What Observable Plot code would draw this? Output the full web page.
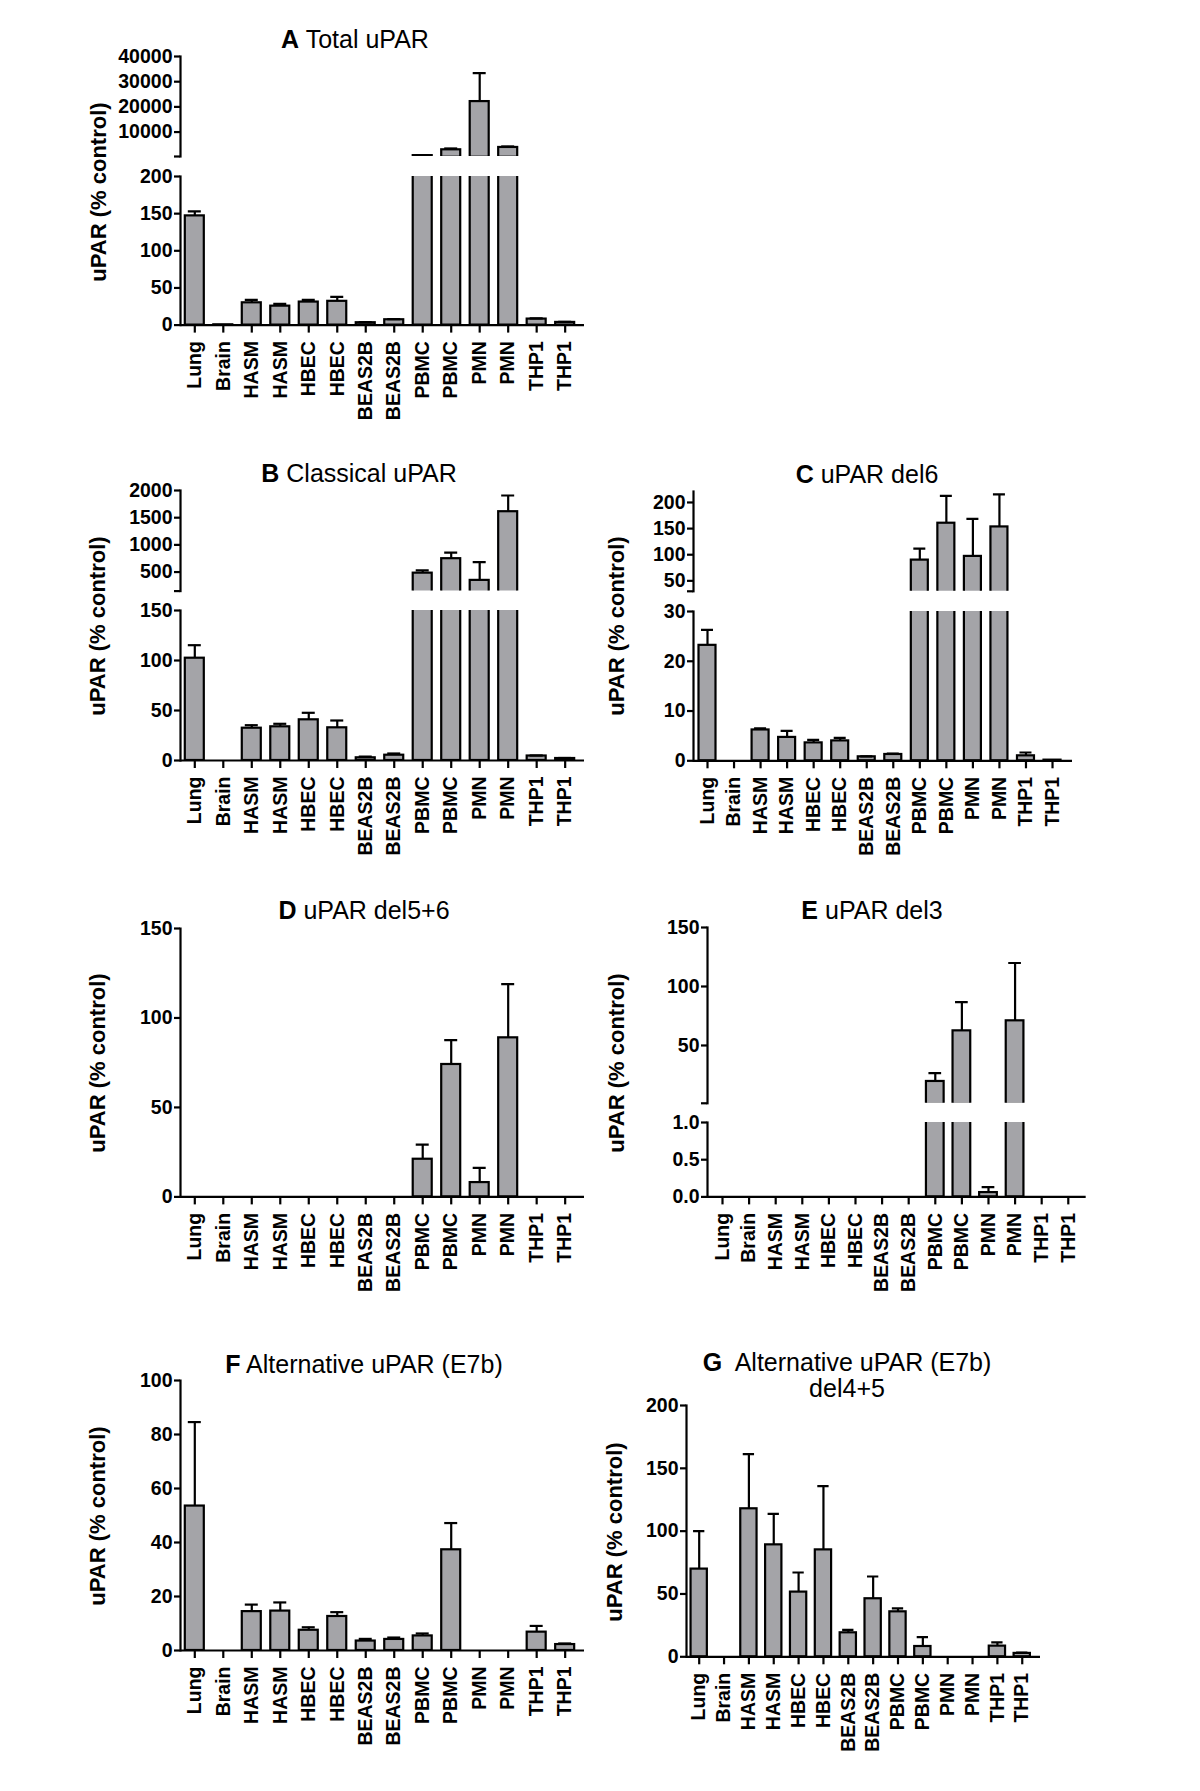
<!DOCTYPE html>
<html>
<head>
<meta charset="utf-8">
<script src="https://cdn.jsdelivr.net/npm/d3@7"></script>
<script src="https://cdn.jsdelivr.net/npm/@observablehq/plot@0.6"></script>
<style>
html, body { margin: 0; padding: 0; background: #fff; }
#fig { position: relative; width: 1200px; height: 1791px; overflow: hidden; background: #fff;
  font-family: 'Liberation Sans', Arial, Helvetica, sans-serif; color: #000; }
.title { position: absolute; white-space: nowrap; font-size: 25px; line-height: 25px; transform: translateX(-50%); }
.title b { font-weight: bold; }
.ylab { position: absolute; white-space: nowrap; font-size: 22px; line-height: 22px; font-weight: bold;
  transform: translate(-50%, -50%) rotate(-90deg); }
.seg { position: absolute; }
.seg svg { overflow: visible; }
</style>
</head>
<body>
<div id="fig"></div>
<script>
// ---------------- data ----------------
const categories = ["Lung", "Brain", "HASM", "HASM", "HBEC", "HBEC", "BEAS2B", "BEAS2B", "PBMC", "PBMC", "PMN", "PMN", "THP1", "THP1"];

// A Total uPAR (mean, SEM)
const totalMean = [147, 0.4, 30, 25.5, 31, 32, 3.2, 7.2, 650, 2960, 22100, 3890, 8.1, 3.6];
const totalSem  = [6, 0, 4, 3, 3, 6, 0.8, 0.8, 150, 530, 11300, 400, 0.9, 0.9];

// B Classical uPAR
const classicalMean = [102.3, 0, 32.3, 33.7, 40.7, 32.7, 2.7, 5.3, 480, 746, 347, 1610, 4.5, 2];
const classicalSem  = [13, 0, 3, 3, 7, 7.3, 1.2, 1.7, 50, 111, 337, 298, 0.5, 0.5];

// C uPAR del6
const del6Mean = [23.2, 0, 6.2, 4.7, 3.6, 4.0, 0.8, 1.27, 89.7, 160.3, 96.8, 153.2, 1.0, 0.13];
const del6Sem  = [3.1, 0, 0.3, 1.3, 0.6, 0.6, 0.1, 0.2, 21.8, 52.5, 71.8, 62.2, 0.67, 0];

// D uPAR del5+6
const del56Mean = [0, 0, 0, 0, 0, 0, 0, 0, 21.05, 74.0, 8.0, 88.9, 0, 0];
const del56Sem  = [0, 0, 0, 0, 0, 0, 0, 0, 8.2, 13.6, 8.2, 30, 0, 0];

// E uPAR del3
const del3Mean = [0, 0, 0, 0, 0, 0, 0, 0, 19.5, 62.4, 0.058, 70.9, 0, 0];
const del3Sem  = [0, 0, 0, 0, 0, 0, 0, 0, 7.1, 24.3, 0.072, 49, 0, 0];

// F Alternative uPAR (E7b)
const e7bMean = [53.5, 0, 14.4, 14.6, 7.5, 12.6, 3.5, 4.1, 5.4, 37.3, 0, 0, 6.8, 2.2];
const e7bSem  = [31.1, 0, 2.6, 3.2, 1.1, 1.6, 0.8, 0.7, 0.9, 9.9, 0, 0, 2.3, 0.4];

// G Alternative uPAR (E7b) del4+5
const e7bDel45Mean = [69.8, 0, 117.8, 89.1, 51.5, 85.1, 19.1, 46.2, 35.8, 8.2, 0, 0, 8.5, 2.7];
const e7bDel45Sem  = [30.2, 0, 43.5, 24.7, 15.6, 50.7, 2.4, 17.7, 2.7, 7.4, 0, 0, 2.9, 0.7];

// tick values
const ticksA_hi = [10000, 20000, 30000, 40000];
const ticksA_lo = [0, 50, 100, 150, 200];
const ticksB_hi = [500, 1000, 1500, 2000];
const ticksB_lo = [0, 50, 100, 150];
const ticksC_hi = [50, 100, 150, 200];
const ticksC_lo = [0, 10, 20, 30];
const ticksD    = [0, 50, 100, 150];
const ticksE_hi = [50, 100, 150];
const ticksE_lo = [0, 0.5, 1.0];
const ticksF    = [0, 20, 40, 60, 80, 100];
const ticksG    = [0, 50, 100, 150, 200];

const yTitle = "uPAR (% control)";

// ---------------- layout (pixel geometry of each panel) ----------------
const BAR_FILL = "#a4a4a8";
const fmtInt = d3.format("d");
const fmt1 = d3.format(".1f");

const panels = [
  { key: "A", name: "Total uPAR", mean: totalMean, sem: totalSem,
    x0: 180, x1: 584, c0: 194.3, step: 28.49, bw: 19, cap: 3,
    title: {x: 355, y: 39}, ylab: {x: 99, y: 192},
    segs: [
      {yTop: 55.7, yBot: 155.7, domain: [300, 40000], ticks: ticksA_hi, fmt: fmtInt},
      {yTop: 175.7, yBot: 324.3, domain: [0, 200], ticks: ticksA_lo, fmt: fmtInt}
    ]},
  { key: "B", name: "Classical uPAR", mean: classicalMean, sem: classicalSem,
    x0: 180, x1: 584, c0: 194.3, step: 28.49, bw: 19, cap: 3,
    title: {x: 359, y: 473}, ylab: {x: 98, y: 626},
    segs: [
      {yTop: 490, yBot: 590.6, domain: [150, 2000], ticks: ticksB_hi, fmt: fmtInt},
      {yTop: 610, yBot: 760, domain: [0, 150], ticks: ticksB_lo, fmt: fmtInt}
    ]},
  { key: "C", name: "uPAR del6", mean: del6Mean, sem: del6Sem,
    x0: 692.7, x1: 1071.7, c0: 706.7, step: 26.54, bw: 17, cap: 2.5,
    title: {x: 867, y: 474}, ylab: {x: 617, y: 626},
    segs: [
      {yTop: 490.7, yBot: 590.5, domain: [30, 221], ticks: ticksC_hi, fmt: fmtInt},
      {yTop: 610.7, yBot: 760, domain: [0, 30], ticks: ticksC_lo, fmt: fmtInt}
    ]},
  { key: "D", name: "uPAR del5+6", mean: del56Mean, sem: del56Sem,
    x0: 180, x1: 584, c0: 194.3, step: 28.49, bw: 19, cap: 3,
    title: {x: 364, y: 910}, ylab: {x: 98, y: 1063},
    segs: [
      {yTop: 928.3, yBot: 1196.7, domain: [0, 150], ticks: ticksD, fmt: fmtInt}
    ]},
  { key: "E", name: "uPAR del3", mean: del3Mean, sem: del3Sem,
    x0: 707.3, x1: 1086, c0: 722.3, step: 26.6, bw: 17.7, cap: 2.5,
    title: {x: 872, y: 910}, ylab: {x: 617, y: 1063},
    segs: [
      {yTop: 927.3, yBot: 1103.1, domain: [1, 150], ticks: ticksE_hi, fmt: fmtInt},
      {yTop: 1122.3, yBot: 1196.7, domain: [0, 1], ticks: ticksE_lo, fmt: fmt1}
    ]},
  { key: "F", name: "Alternative uPAR (E7b)", mean: e7bMean, sem: e7bSem,
    x0: 180, x1: 584, c0: 194.3, step: 28.49, bw: 19, cap: 3,
    title: {x: 364, y: 1364}, ylab: {x: 98, y: 1516},
    segs: [
      {yTop: 1380, yBot: 1650, domain: [0, 100], ticks: ticksF, fmt: fmtInt}
    ]},
  { key: "G", name: "Alternative uPAR (E7b)", name2: "del4+5", doubleSpace: true, mean: e7bDel45Mean, sem: e7bDel45Sem,
    x0: 686, x1: 1040, c0: 698.7, step: 24.85, bw: 16.3, cap: 2.5,
    title: {x: 847, y: 1362.5}, title2: {x: 847, y: 1388}, ylab: {x: 615, y: 1532},
    segs: [
      {yTop: 1405, yBot: 1656.3, domain: [0, 200], ticks: ticksG, fmt: fmtInt}
    ]}
];

function bandOpts(P) {
  const n = categories.length;
  const pi = 1 - P.bw / P.step;
  const total = P.x1 - P.x0;
  const po = (total / P.step - n + pi) / 2;
  const outer = total - P.step * (n - pi);
  const align = Math.max(0, Math.min(1, (P.c0 - P.bw / 2 - P.x0) / outer));
  return {paddingInner: pi, paddingOuter: Math.max(0, po), align};
}

const fig = document.getElementById("fig");

function drawSegment(P, S, isBottom, isTopOfBreak) {
  const mL = 92, mR = 14, mT = 8, mB = isBottom ? 110 : 4;
  const w = P.x1 - P.x0 + mL + mR;
  const h = S.yBot - S.yTop + mT + mB;
  const lo = S.domain[0];
  const rows = categories.map((c, i) => ({i, v: P.mean[i], s: P.sem[i]}));
  // in an upper (broken) segment only values that reach above its floor are visible
  const barRows = isBottom ? rows : rows.filter(d => d.v > lo);
  const errRows = rows.filter(d => d.s > 0 && (isBottom || d.v + d.s > lo));
  const b = bandOpts(P);
  const tickVals = isTopOfBreak ? [lo, ...S.ticks] : S.ticks;
  const labeled = new Set(S.ticks);
  const marks = [
    Plot.barY(barRows, {x: "i", y1: 0, y2: "v", fill: BAR_FILL, stroke: "#000", strokeWidth: 2.2, clip: true}),
    Plot.ruleX(errRows, {x: "i", y1: "v", y2: d => d.v + d.s, stroke: "#000", strokeWidth: 2.2, clip: true}),
    Plot.tickY(errRows, {x: "i", y: d => d.v + d.s, stroke: "#000", strokeWidth: 2.2,
      insetLeft: P.cap, insetRight: P.cap, clip: true}),
    Plot.frame({anchor: "left", stroke: "#000", strokeWidth: 2.2}),
    Plot.axisY(tickVals, {anchor: "left", tickSize: 6, tickPadding: 2, stroke: "#000", strokeWidth: 2.2,
      tickFormat: d => labeled.has(d) ? S.fmt(d) : "", label: null})
  ];
  if (isBottom) {
    marks.push(Plot.ruleY([0], {stroke: "#000", strokeWidth: 2.2}));
    marks.push(Plot.axisX({anchor: "bottom", tickSize: 8, tickPadding: 8, tickRotate: -90, stroke: "#000",
      strokeWidth: 2.2, tickFormat: i => categories[i], label: null}));
  }
  const chart = Plot.plot({
    width: w, height: h,
    marginLeft: mL, marginRight: mR, marginTop: mT, marginBottom: mB,
    style: {fontFamily: "'Liberation Sans', Arial, Helvetica, sans-serif", fontSize: "19.5px",
      fontWeight: "bold", color: "#000", background: "transparent", overflow: "visible"},
    x: {type: "band", domain: categories.map((c, i) => i), round: false, ...b,
      ...(isBottom ? {} : {axis: null})},
    y: {domain: S.domain, range: [S.yBot - S.yTop + mT, mT], axis: null},
    marks
  });
  const div = document.createElement("div");
  div.className = "seg";
  div.style.left = (P.x0 - mL) + "px";
  div.style.top = (S.yTop - mT) + "px";
  div.appendChild(chart);
  fig.appendChild(div);
}

function addText(cls, x, y, html) {
  const d = document.createElement("div");
  d.className = cls;
  d.style.left = x + "px";
  d.style.top = y + "px";
  d.innerHTML = html;
  fig.appendChild(d);
  return d;
}

for (const P of panels) {
  const n = P.segs.length;
  P.segs.forEach((S, k) => drawSegment(P, S, k === n - 1, n > 1 && k === 0));
  // title positions are given as the vertical centre of the capitals
  addText("title", P.title.x, P.title.y - 0.49 * 25, `<b>${P.key}</b>${P.doubleSpace ? "&nbsp; " : " "}${P.name}`);
  if (P.name2) addText("title", P.title2.x, P.title2.y - 0.49 * 25, P.name2);
  addText("ylab", P.ylab.x, P.ylab.y, yTitle);
}
</script>
</body>
</html>
